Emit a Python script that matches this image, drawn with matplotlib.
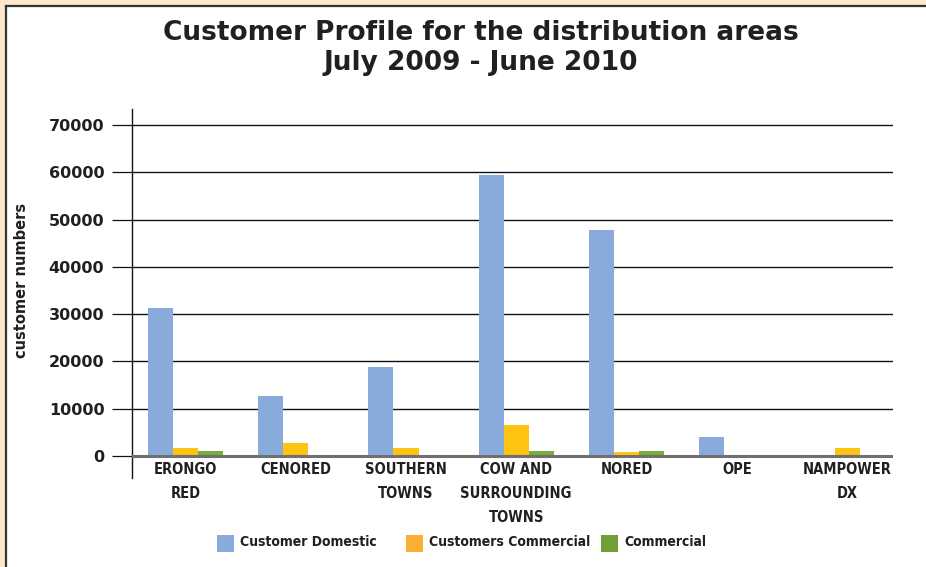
import numpy as np
import matplotlib.pyplot as plt
from matplotlib.patches import Rectangle

# customer numbers per distribution area, July 2009 - June 2010
areas = ["ERONGO\nRED", "CENORED", "SOUTHERN\nTOWNS", "COW AND\nSURROUNDING\nTOWNS",
         "NORED", "OPE", "NAMPOWER\nDX"]
domestic = [31300, 12700, 18800, 59400, 47700, 4100, 0]
cust_commercial = [1700, 2800, 1700, 6600, 900, 0, 1700]
commercial = [1000, 0, 0, 1000, 1000, 0, 0]

series_names = ["Customer Domestic", "Customers Commercial", "Commercial"]
bar_colors = ["#88abdb", "#ffc312", "#79ad3c"]
legend_colors = ["#88abdb", "#fbb034", "#70a035"]
yticks = [0, 10000, 20000, 30000, 40000, 50000, 60000, 70000]

narrow = dict(family="DejaVu Sans", stretch="condensed", weight="bold")

W, H = 926, 567
fig = plt.figure(figsize=(W / 100, H / 100), dpi=100)
fig.patch.set_facecolor("white")

# beige page edge with a dark frame line
fig.add_artist(Rectangle((0, 0), 5 / W, 1, transform=fig.transFigure,
                         facecolor="#fde6ca", edgecolor="none", zorder=0))
fig.add_artist(Rectangle((0, 1 - 5 / H), 1, 5 / H, transform=fig.transFigure,
                         facecolor="#fde6ca", edgecolor="none", zorder=0))
fig.add_artist(plt.Line2D([5.5 / W, 5.5 / W], [0, 1 - 5.5 / H], transform=fig.transFigure,
                          color="#333333", lw=1.6))
fig.add_artist(plt.Line2D([5.5 / W, 1], [1 - 5.5 / H, 1 - 5.5 / H], transform=fig.transFigure,
                          color="#333333", lw=1.6))

ax = fig.add_axes([132 / W, (H - 478) / H, (893 - 132) / W, (478 - 109) / H])
ax.set_facecolor("none")

x = np.arange(len(areas))
bw = 0.227
for i, (vals, col) in enumerate(zip([domestic, cust_commercial, commercial], bar_colors)):
    ax.bar(x + (i - 1) * bw, vals, width=bw, color=col, zorder=3)

ax.set_xlim(-0.485, 6.417)
ax.set_ylim(-4652, 73380)

for t in yticks[1:]:
    ax.axhline(t, color="#111111", lw=1.0, zorder=1)
ax.axhline(0, color="#707070", lw=2.2, zorder=4)

for s in ["top", "right", "bottom"]:
    ax.spines[s].set_visible(False)
ax.spines["left"].set_color("#111111")
ax.spines["left"].set_linewidth(1.0)

ax.set_yticks(yticks)
ax.set_yticklabels([str(t) for t in yticks], fontsize=11.5, fontweight="bold", color="#231f20")
ax.tick_params(axis="y", length=14.4, width=0.9, pad=5.5, color="#111111")
ax.set_xticks([])

# category names under the zero line
for xi, name in zip(x, areas):
    ax.text(xi, -1300, name, ha="center", va="top", fontsize=10.5, color="#231f20",
            linespacing=1.75, **narrow)

fig.text(22 / W, 1 - 280 / H, "customer numbers", rotation=90, ha="center", va="center",
         fontsize=10.5, fontweight="bold", color="#231f20")

fig.text(481 / W, 1 - 48 / H, "Customer Profile for the distribution areas\nJuly 2009 - June 2010",
         ha="center", va="center", fontsize=19, fontweight="heavy", color="#231f20",
         linespacing=1.2)

# legend row along the bottom: colour square then series name
key_left = [217, 406, 601]
for left, name, col in zip(key_left, series_names, legend_colors):
    fig.add_artist(Rectangle((left / W, 1 - 552 / H), 17 / W, 17 / H, transform=fig.transFigure,
                             facecolor=col, edgecolor="none"))
    fig.text((left + 23) / W, 1 - 542 / H, name, ha="left", va="center", fontsize=10,
             color="#231f20", **narrow)

fig.savefig("out.png", dpi=100)
